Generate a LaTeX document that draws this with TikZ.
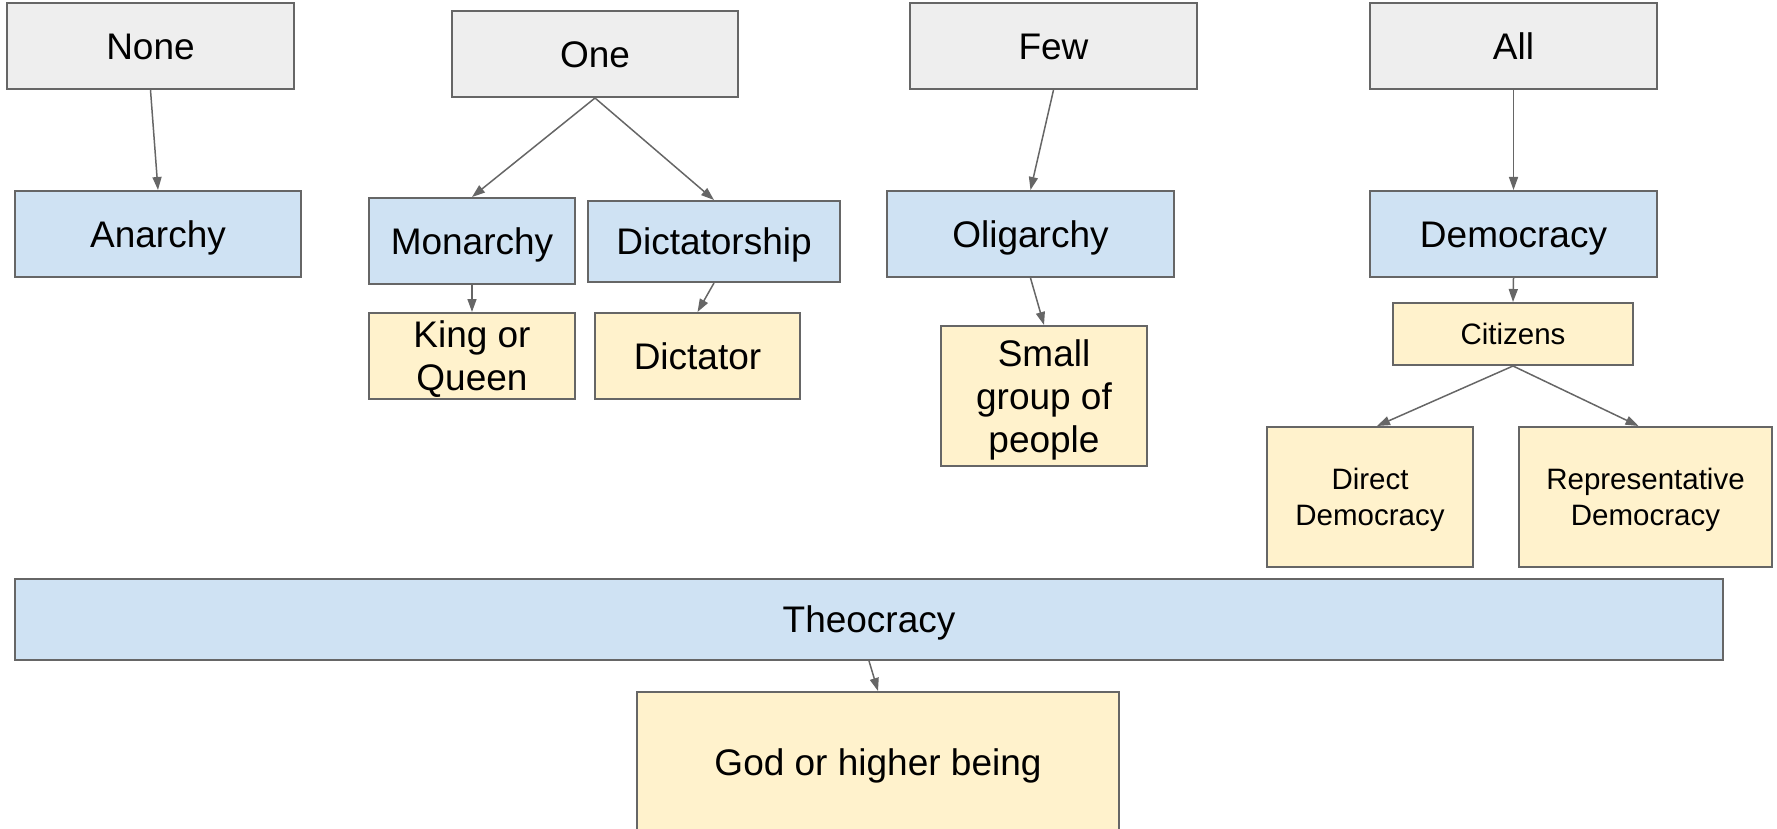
\documentclass[tikz,border=0pt]{standalone}
\usepackage{fontspec}
\setmainfont{Liberation Sans}
\usetikzlibrary{arrows.meta}
\definecolor{bordergray}{HTML}{666666}
\definecolor{greyfill}{HTML}{EEEEEE}
\definecolor{bluefill}{HTML}{CFE2F3}
\definecolor{yellowfill}{HTML}{FFF2CC}
\tikzset{
  box/.style={draw=bordergray, line width=2pt, rectangle, inner sep=0pt, align=center,
    font=\fontsize{37}{43}\selectfont},
  oneline/.style={text height=26.5pt, text depth=0pt},
  smallbox/.style={box, font=\fontsize{29.5}{36}\selectfont},
  smallline/.style={text height=21pt, text depth=0pt},
  grey/.style={fill=greyfill},
  blue/.style={fill=bluefill},
  yellow/.style={fill=yellowfill},
  conn/.style={draw=bordergray, line width=1.5pt, -{Triangle[length=13pt,width=9pt]}}
}
\begin{document}
\begin{tikzpicture}[x=1pt,y=-1pt]
\useasboundingbox (0,0) rectangle (1777,829);
\clip (0,0) rectangle (1777,829);
% top row
\node[box,oneline,grey,minimum width=287,minimum height=86] (none) at (150.5,46) {None};
\node[box,oneline,grey,minimum width=286,minimum height=86] (one) at (595,54) {One};
\node[box,oneline,grey,minimum width=287,minimum height=86] (few) at (1053.5,46) {Few};
\node[box,oneline,grey,minimum width=287,minimum height=86] (all) at (1513.5,46) {All};
% second row
\node[box,oneline,blue,minimum width=286,minimum height=86] (anarchy) at (158,234) {Anarchy};
\node[box,oneline,blue,minimum width=206,minimum height=86] (monarchy) at (472,241) {Monarchy};
\node[box,oneline,blue,minimum width=252,minimum height=81] (dictatorship) at (714,241.5) {Dictatorship};
\node[box,oneline,blue,minimum width=287,minimum height=86] (oligarchy) at (1030.5,234) {Oligarchy};
\node[box,oneline,blue,minimum width=287,minimum height=86] (democracy) at (1513.5,234) {Democracy};
% third row
\node[box,yellow,minimum width=206,minimum height=86] (king) at (472,356) {King or\\\smash{Queen}};
\node[box,oneline,yellow,minimum width=205,minimum height=86] (dictator) at (697.5,356) {Dictator};
\node[box,yellow,minimum width=206,minimum height=140] (small) at (1044,396) {Small\\group of\\\smash{people}};
\node[smallbox,smallline,yellow,minimum width=240,minimum height=62] (citizens) at (1513,334) {Citizens};
\node[smallbox,yellow,minimum width=206,minimum height=140] (direct) at (1370,497) {Direct\\\smash{Democracy}};
\node[smallbox,yellow,minimum width=253,minimum height=140] (rep) at (1645.5,497) {Representative\\\smash{Democracy}};
% theocracy
\node[box,oneline,blue,minimum width=1708,minimum height=81] (theocracy) at (869,619.5) {Theocracy};
\node[box,oneline,yellow,minimum width=482,minimum height=140] (god) at (878,762) {God or higher being};
% connectors
\draw[conn] (none.south) -- (anarchy.north);
\draw[conn] (one.south) -- (monarchy.north);
\draw[conn] (one.south) -- (dictatorship.north);
\draw[conn] (monarchy.south) -- (king.north);
\draw[conn] (dictatorship.south) -- (dictator.north);
\draw[conn] (few.south) -- (oligarchy.north);
\draw[conn] (oligarchy.south) -- (small.north);
\draw[conn] (all.south) -- (democracy.north);
\draw[conn] (democracy.south) -- (citizens.north);
\draw[conn] (citizens.south) -- ([xshift=7pt]direct.north);
\draw[conn] (citizens.south) -- ([xshift=-7pt]rep.north);
\draw[conn] (theocracy.south) -- (god.north);
\end{tikzpicture}
\end{document}
